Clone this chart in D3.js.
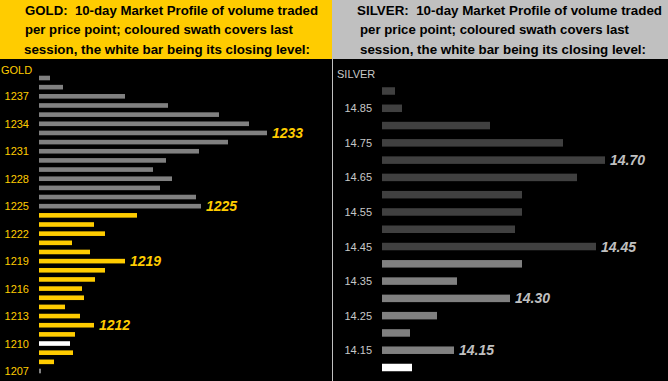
<!DOCTYPE html>
<html>
<head>
<meta charset="utf-8">
<script src="https://cdn.jsdelivr.net/npm/d3@7"></script>
<style>
  html, body { margin: 0; padding: 0; background: #000; }
  svg { display: block; }
  text.title { white-space: pre; }
</style>
</head>
<body>
<svg id="chart" width="668" height="381"></svg>
<script>
// ---------- DATA ----------
const goldPrices = ["1239","1238","1237","1236","1235","1234","1233","1232","1231","1230",
  "1229","1228","1227","1226","1225","1224","1223","1222","1221","1220",
  "1219","1218","1217","1216","1215","1214","1213","1212","1211","1210",
  "1209","1208","1207"];
const goldVolume = [11,24,86,129,180,210,228,189,160,127,
  114,133,121,157,162,98,55,66,33,51,
  86,66,56,43,45,26,41,55,36,31,
  34,15,2];
const goldTicks = ["1237","1234","1231","1228","1225","1222","1219","1216","1213","1210","1207"];
const goldLabels = ["1233","1225","1219","1212"];
const goldSessionHigh = 1224, goldSessionLow = 1208, goldClose = "1210";
const goldTitle = ["GOLD:  10-day Market Profile of volume traded",
  "per price point; coloured swath covers last",
  "session, the white bar being its closing level:"];

const silverPrices = ["14.90","14.85","14.80","14.75","14.70","14.65","14.60","14.55","14.50",
  "14.45","14.40","14.35","14.30","14.25","14.20","14.15","14.10"];
const silverVolume = [13,20,108,181,223,195,140,140,133,214,140,75,128,55,28,72,30];
const silverTicks = ["14.85","14.75","14.65","14.55","14.45","14.35","14.25","14.15"];
const silverLabels = ["14.70","14.45","14.30","14.15"];
const silverSessionHigh = 14.40, silverSessionLow = 14.15, silverClose = "14.10";
const silverTitle = ["SILVER:  10-day Market Profile of volume traded",
  "per price point; coloured swath covers last",
  "session, the white bar being its closing level:"];

// ---------- DRAW ----------
const svg = d3.select("#chart");
const W = 668, H = 381;

svg.append("rect").attr("x",0).attr("y",0).attr("width",W).attr("height",H).attr("fill","#000");

function panel(cfg) {
  const g = svg.append("g");
  // title band
  g.append("rect").attr("x", cfg.bandX).attr("y", 0).attr("width", cfg.bandW).attr("height", 59)
    .attr("fill", cfg.bandColor);
  cfg.title.forEach((t, i) => {
    g.append("text")
      .attr("class", "title")
      .attr("xml:space", "preserve")
      .attr("x", cfg.titleX[i]).attr("y", 14.5 + i * 19.8)
      .attr("font-family", "Liberation Sans, Arial, sans-serif")
      .attr("font-weight", "bold").attr("font-size", "12.5px")
      .attr("fill", "#000")
      .attr("textLength", cfg.titleW[i]).attr("lengthAdjust", "spacingAndGlyphs")
      .text(t);
  });

  const y = d3.scalePoint().domain(cfg.prices).range(cfg.yRange);
  const x = d3.scaleLinear().domain([0, 250]).range([cfg.x0, cfg.x0 + 250]);
  const data = cfg.prices.map((p, i) => ({ p, v: cfg.volume[i] }));

  g.selectAll("rect.bar").data(data).enter().append("rect")
    .attr("class", "bar")
    .attr("x", x(0))
    .attr("y", d => y(d.p) - cfg.barH / 2)
    .attr("width", d => x(d.v) - x(0))
    .attr("height", cfg.barH)
    .attr("fill", d => {
      if (d.p === cfg.close) return "#ffffff";
      const n = +d.p;
      if (n <= cfg.high + 1e-9 && n >= cfg.low - 1e-9) return cfg.sessionColor;
      return cfg.baseColor;
    });

  g.selectAll("text.lab").data(data.filter(d => cfg.labels.includes(d.p))).enter().append("text")
    .attr("class", "lab")
    .attr("x", d => x(d.v) + 5)
    .attr("y", d => y(d.p))
    .attr("dy", "0.36em")
    .attr("font-family", "Liberation Sans, Arial, sans-serif")
    .attr("font-weight", "bold").attr("font-style", "italic")
    .attr("font-size", "14px")
    .attr("fill", cfg.labelColor)
    .text(d => d.p);

  const axis = d3.axisLeft(y).tickValues(cfg.ticks).tickSize(0).tickPadding(10);
  const ag = g.append("g").attr("transform", `translate(${cfg.x0},0)`).call(axis);
  ag.select(".domain").remove();
  ag.selectAll("text")
    .attr("font-family", "Liberation Sans, Arial, sans-serif")
    .attr("font-size", "11px")
    .attr("fill", cfg.axisColor);

  g.append("text")
    .attr("x", cfg.nameX).attr("y", cfg.nameY).attr("dy", "0.36em")
    .attr("font-family", "Liberation Sans, Arial, sans-serif")
    .attr("font-size", "11px")
    .attr("fill", cfg.axisColor)
    .text(cfg.name);
}

panel({
  bandX: 0, bandW: 332, bandColor: "#ffcc00",
  title: goldTitle, titleX: [25, 25, 24], titleW: [293, 268, 286],
  prices: goldPrices, volume: goldVolume, yRange: [78, 371], x0: 39, barH: 4.6,
  close: goldClose, high: goldSessionHigh, low: goldSessionLow,
  sessionColor: "#ffcc00", baseColor: "#808080",
  labels: goldLabels, labelColor: "#ffcc00",
  ticks: goldTicks, axisColor: "#ffcc00",
  name: "GOLD", nameX: 1, nameY: 70
});

panel({
  bandX: 332, bandW: 336, bandColor: "#c0c0c0",
  title: silverTitle, titleX: [357, 360, 360], titleW: [305, 269, 286],
  prices: silverPrices, volume: silverVolume, yRange: [91, 367.5], x0: 382, barH: 7.5,
  close: silverClose, high: silverSessionHigh, low: silverSessionLow,
  sessionColor: "#808080", baseColor: "#404040",
  labels: silverLabels, labelColor: "#c0c0c0",
  ticks: silverTicks, axisColor: "#c8c8c8",
  name: "SILVER", nameX: 337, nameY: 74.5
});

// separator
svg.append("line").attr("x1", 332.5).attr("x2", 332.5).attr("y1", 59).attr("y2", H)
  .attr("stroke", "#c0c0c0").attr("stroke-width", 1);
</script>
</body>
</html>
